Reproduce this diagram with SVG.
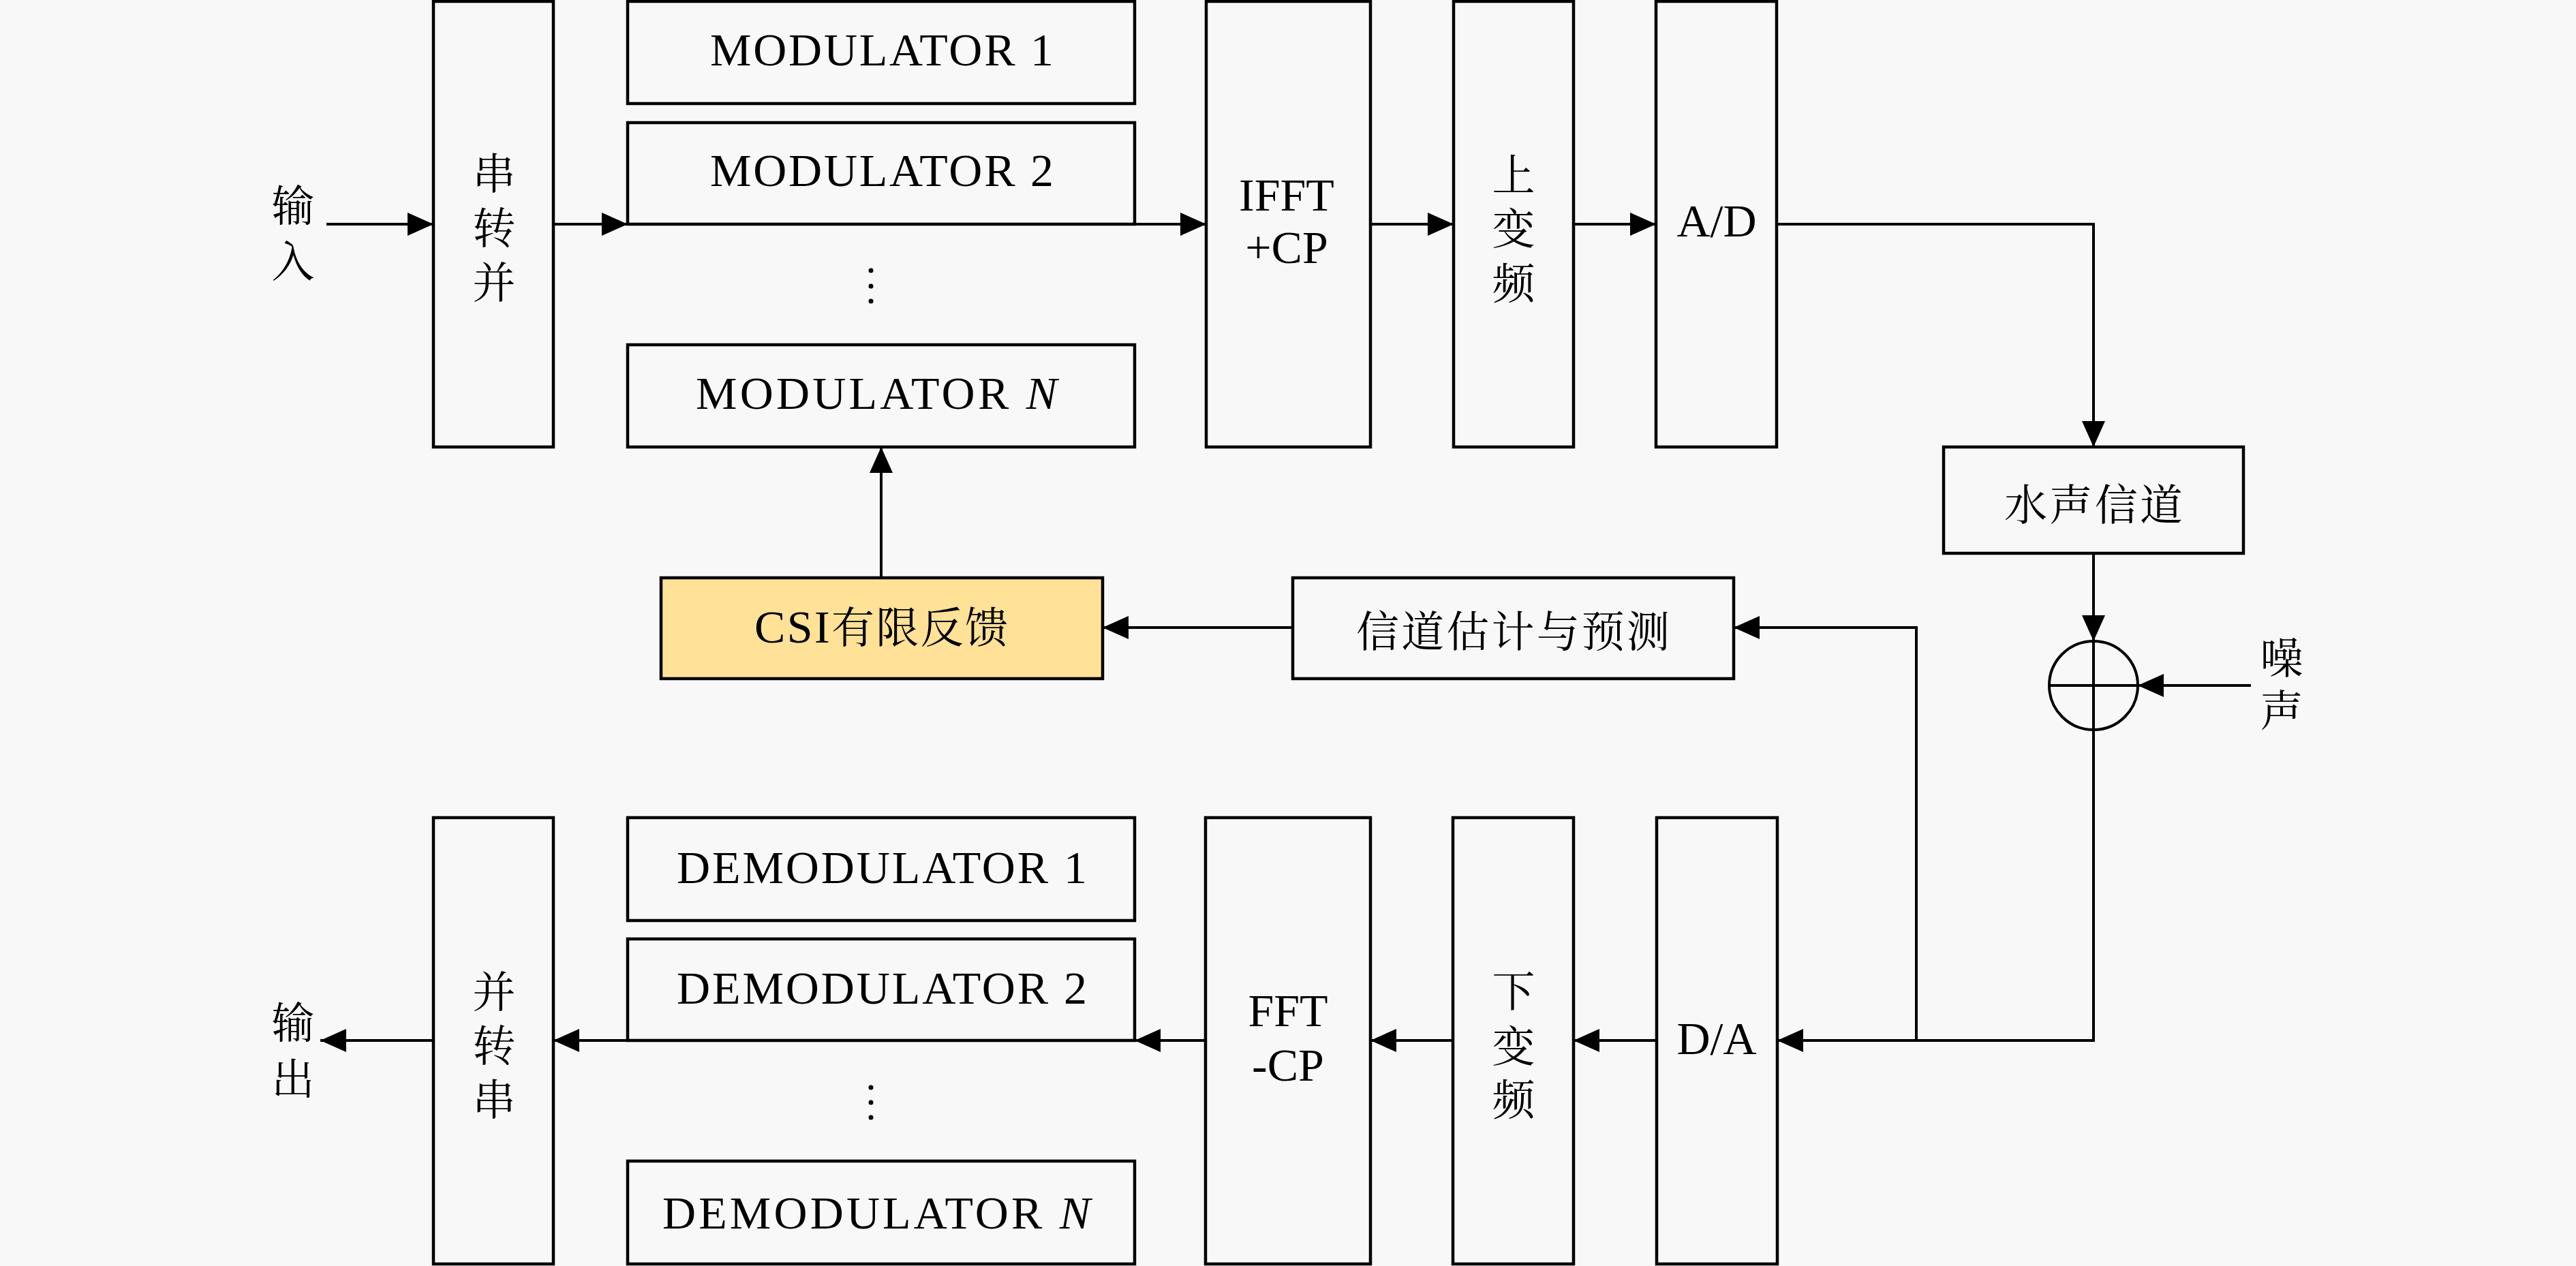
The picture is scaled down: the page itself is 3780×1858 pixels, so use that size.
<svg xmlns="http://www.w3.org/2000/svg" width="3780" height="1858" viewBox="0 0 3780 1858">
<defs>
<style>
.box{fill:none;stroke:#000;stroke-width:4.5}
.csi{fill:#FFE197;stroke:#000;stroke-width:4.5}
.ln{fill:none;stroke:#000;stroke-width:4}
.lat{font-family:"Liberation Serif","Times New Roman",serif;font-size:68px;fill:#000}
.cjk{font-family:"Noto Serif CJK SC","Noto Sans CJK SC",serif;font-size:63px;fill:#000}
.v{text-anchor:middle;dominant-baseline:central}
</style>
<marker id="ah" markerUnits="userSpaceOnUse" markerWidth="38" markerHeight="34" refX="38" refY="17" orient="auto">
<path d="M0,0 L38,17 L0,34 z" fill="#000"/>
</marker>
</defs>
<rect x="0" y="0" width="3780" height="1858" fill="#F8F8F8"/>

<g id="input-label"><text class="cjk v"><tspan x="430" y="296">输</tspan><tspan x="430" y="378">入</tspan></text></g>
<g id="s2p"><rect class="box" x="636" y="2" width="176" height="654"/>
<text class="cjk v"><tspan x="725" y="249">串</tspan><tspan x="725" y="329">转</tspan><tspan x="725" y="409">并</tspan></text></g>
<g id="mod1"><rect class="box" x="921" y="2" width="744" height="150"/><text class="lat" x="1294" y="96" text-anchor="middle" textLength="504">MODULATOR 1</text></g>
<g id="mod2"><rect class="box" x="921" y="180" width="744" height="149"/><text class="lat" x="1294" y="273" text-anchor="middle" textLength="504">MODULATOR 2</text></g>
<g id="moddots"><circle cx="1278" cy="397" r="3.5"/><circle cx="1278" cy="420" r="3.5"/><circle cx="1278" cy="442" r="3.5"/></g>
<g id="modN"><rect class="box" x="921" y="506" width="744" height="150"/><text class="lat" x="1286" y="600" text-anchor="middle" textLength="530">MODULATOR <tspan font-style="italic">N</tspan></text></g>
<g id="ifft"><rect class="box" x="1770" y="2" width="241" height="654"/>
<text class="lat" text-anchor="middle"><tspan x="1888" y="309">IFFT</tspan><tspan x="1888" y="386">+CP</tspan></text></g>
<g id="upconv"><rect class="box" x="2133" y="2" width="176" height="654"/>
<text class="cjk v"><tspan x="2221" y="251">上</tspan><tspan x="2221" y="330">变</tspan><tspan x="2221" y="410">频</tspan></text></g>
<g id="ad"><rect class="box" x="2430" y="2" width="177" height="654"/><text class="lat" x="2519" y="347" text-anchor="middle">A/D</text></g>
<g id="channel"><rect class="box" x="2852" y="656" width="440" height="156"/><text class="cjk v" x="3072" y="735" textLength="262">水声信道</text></g>
<g id="adder"><circle cx="3072" cy="1006" r="65" fill="none" stroke="#000" stroke-width="4"/>
<line class="ln" x1="3007" y1="1006" x2="3137" y2="1006"/><line class="ln" x1="3072" y1="941" x2="3072" y2="1071"/></g>
<g id="noise-label"><text class="cjk v"><tspan x="3348" y="960">噪</tspan><tspan x="3348" y="1037">声</tspan></text></g>
<g id="estimate"><rect class="box" x="1897" y="848" width="647" height="148"/><text class="cjk v" x="2220" y="921" textLength="460">信道估计与预测</text></g>
<g id="csi"><rect class="csi" x="970" y="848" width="648" height="148"/><text x="1293" y="943" text-anchor="middle" textLength="372"><tspan class="lat">CSI</tspan><tspan class="cjk">有限反馈</tspan></text></g>

<g id="p2s"><rect class="box" x="636" y="1200" width="176" height="655"/>
<text class="cjk v"><tspan x="725" y="1450">并</tspan><tspan x="725" y="1529">转</tspan><tspan x="725" y="1608">串</tspan></text></g>
<g id="output-label"><text class="cjk v"><tspan x="430" y="1495">输</tspan><tspan x="430" y="1578">出</tspan></text></g>
<g id="demod1"><rect class="box" x="921" y="1200" width="744" height="151"/><text class="lat" x="1294" y="1296" text-anchor="middle" textLength="602">DEMODULATOR 1</text></g>
<g id="demod2"><rect class="box" x="921" y="1378" width="744" height="149"/><text class="lat" x="1294" y="1473" text-anchor="middle" textLength="602">DEMODULATOR 2</text></g>
<g id="demoddots"><circle cx="1278" cy="1596" r="3.5"/><circle cx="1278" cy="1618" r="3.5"/><circle cx="1278" cy="1640" r="3.5"/></g>
<g id="demodN"><rect class="box" x="921" y="1704" width="744" height="151"/><text class="lat" x="1286" y="1803" text-anchor="middle" textLength="628">DEMODULATOR <tspan font-style="italic">N</tspan></text></g>
<g id="fft"><rect class="box" x="1769" y="1200" width="242" height="655"/>
<text class="lat" text-anchor="middle"><tspan x="1890" y="1506">FFT</tspan><tspan x="1890" y="1586">-CP</tspan></text></g>
<g id="downconv"><rect class="box" x="2132" y="1200" width="177" height="655"/>
<text class="cjk v"><tspan x="2221" y="1449">下</tspan><tspan x="2221" y="1530">变</tspan><tspan x="2221" y="1608">频</tspan></text></g>
<g id="da"><rect class="box" x="2431" y="1200" width="177" height="655"/><text class="lat" x="2519" y="1547" text-anchor="middle">D/A</text></g>

<g id="connectors">
<line class="ln" x1="479" y1="329" x2="636" y2="329" marker-end="url(#ah)"/>
<line class="ln" x1="812" y1="329" x2="921" y2="329" marker-end="url(#ah)"/>
<line class="ln" x1="1665" y1="329" x2="1770" y2="329" marker-end="url(#ah)"/>
<line class="ln" x1="2011" y1="329" x2="2133" y2="329" marker-end="url(#ah)"/>
<line class="ln" x1="2309" y1="329" x2="2430" y2="329" marker-end="url(#ah)"/>
<polyline class="ln" points="2607,329 3072,329 3072,656" marker-end="url(#ah)"/>
<line class="ln" x1="3072" y1="812" x2="3072" y2="941" marker-end="url(#ah)"/>
<line class="ln" x1="3303" y1="1006" x2="3137" y2="1006" marker-end="url(#ah)"/>
<polyline class="ln" points="3072,1071 3072,1527 2608,1527" marker-end="url(#ah)"/>
<polyline class="ln" points="2812,1527 2812,921 2544,921" marker-end="url(#ah)"/>
<line class="ln" x1="1897" y1="921" x2="1618" y2="921" marker-end="url(#ah)"/>
<line class="ln" x1="1293" y1="848" x2="1293" y2="656" marker-end="url(#ah)"/>
<line class="ln" x1="2431" y1="1527" x2="2309" y2="1527" marker-end="url(#ah)"/>
<line class="ln" x1="2132" y1="1527" x2="2011" y2="1527" marker-end="url(#ah)"/>
<line class="ln" x1="1769" y1="1527" x2="1665" y2="1527" marker-end="url(#ah)"/>
<line class="ln" x1="921" y1="1527" x2="812" y2="1527" marker-end="url(#ah)"/>
<line class="ln" x1="636" y1="1527" x2="470" y2="1527" marker-end="url(#ah)"/>
</g>
</svg>
